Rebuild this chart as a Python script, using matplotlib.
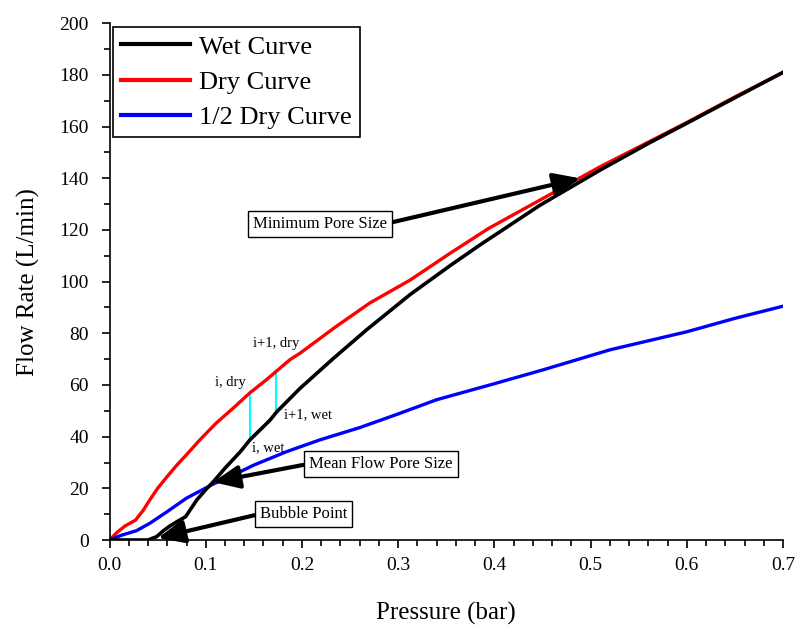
import matplotlib
matplotlib.use("Agg")
import matplotlib.pyplot as plt
from matplotlib.ticker import MultipleLocator

plt.rcParams['font.family'] = ['Liberation Serif', 'DejaVu Serif']

# dry curve
dry_p = [0, 0.008, 0.016, 0.027, 0.035, 0.042, 0.05, 0.06, 0.07, 0.08, 0.094,
         0.111, 0.129, 0.146, 0.163, 0.1875, 0.198, 0.235, 0.2708, 0.3124,
         0.354, 0.394, 0.4475, 0.51, 0.56, 0.6, 0.65, 0.7]
dry_f = [0, 3, 5.4, 7.7, 11.5, 15.6, 20, 24.6, 29, 33, 38.8,
         45.3, 51.2, 57, 62, 69.8, 72.3, 82.5, 91.8, 100.6,
         111, 120.6, 131.6, 144.5, 154, 161.6, 171.5, 181]

# wet curve
wet_p = [0, 0.04, 0.049, 0.056, 0.063, 0.071, 0.079, 0.0907, 0.1, 0.108, 0.12,
         0.136, 0.146, 0.16, 0.1668, 0.174, 0.198, 0.2327, 0.267, 0.2985,
         0.3124, 0.354, 0.385, 0.4475, 0.51, 0.56, 0.6, 0.65, 0.7]
wet_f = [0, 0, 1.3, 3.6, 5.5, 7.3, 9, 15.5, 19.5, 22.6, 27.8,
         34.2, 38.8, 43.9, 46.4, 49.7, 58.7, 70.3, 81.3, 90.8,
         95, 106.2, 114.2, 129.6, 143.2, 153.5, 161.3, 171.2, 181]

# half dry curve
half_p = [0, 0.012, 0.028, 0.042, 0.06, 0.08, 0.108, 0.129, 0.15, 0.184,
          0.219, 0.26, 0.3, 0.34, 0.4, 0.45, 0.52, 0.6, 0.65, 0.7]
half_f = [0, 1.8, 3.6, 6.5, 11, 16.2, 21.7, 25.2, 29, 34.2,
          38.8, 43.5, 48.8, 54.3, 60.5, 65.8, 73.6, 80.6, 85.8, 90.5]

# step i / i+1 between the curves
step_p = [0.146, 0.173]
step_dry = [57, 64.8]
step_wet = [38.8, 49.7]

fig = plt.figure(figsize=(7.96, 6.31), dpi=100)
ax = fig.add_axes([0.1376, 0.1442, 0.8461, 0.8189])

ax.plot(wet_p, wet_f, color='black', lw=2.6, label='Wet Curve', zorder=3)
ax.plot(dry_p, dry_f, color='#ff0000', lw=2.4, label='Dry Curve', zorder=2)
ax.plot(half_p, half_f, color='#0000ff', lw=2.4, label='1/2 Dry Curve', zorder=2)

ax.vlines(step_p, step_wet, step_dry, color='cyan', lw=1.5, zorder=1)

ax.text(0.1097, 60.8, 'i, dry', fontsize=10.5, va='center')
ax.text(0.149, 76.2, 'i+1, dry', fontsize=10.5, va='center')
ax.text(0.181, 48.4, 'i+1, wet', fontsize=10.5, va='center')
ax.text(0.148, 35.6, 'i, wet', fontsize=10.5, va='center')

box = dict(boxstyle='square,pad=0.3', fc='white', ec='black', lw=1)


def arrow(rel):
    return dict(arrowstyle='-|>,head_length=0.5,head_width=0.22', color='black',
                lw=3, mutation_scale=32, shrinkA=0, shrinkB=0, relpos=rel)


ax.annotate('Minimum Pore Size', xy=(0.489, 140), xytext=(0.149, 122.5),
            fontsize=12, bbox=box, arrowprops=arrow((1, 0.5)), va='center')
ax.annotate('Mean Flow Pore Size', xy=(0.1076, 22.4), xytext=(0.2074, 29.5),
            fontsize=12, bbox=box, arrowprops=arrow((0, 0.5)), va='center')
ax.annotate('Bubble Point', xy=(0.0504, 0.8), xytext=(0.1564, 10.1),
            fontsize=12, bbox=box, arrowprops=arrow((0, 0.5)), va='center')

ax.set_xlim(0, 0.7)
ax.set_ylim(0, 200)
ax.xaxis.set_major_locator(MultipleLocator(0.1))
ax.xaxis.set_minor_locator(MultipleLocator(0.02))
ax.yaxis.set_major_locator(MultipleLocator(20))
ax.yaxis.set_minor_locator(MultipleLocator(10))
ax.set_xticklabels([f'{v:.1f}' for v in ax.get_xticks()])
ax.tick_params(which='major', direction='out', length=6, width=1.2, labelsize=14)
ax.tick_params(axis='y', which='major', pad=9)
ax.tick_params(axis='x', which='major', pad=6)
ax.tick_params(which='minor', direction='out', length=4, width=1.2)
ax.spines['top'].set_visible(False)
ax.spines['right'].set_visible(False)
ax.spines['left'].set_linewidth(1.2)
ax.spines['bottom'].set_linewidth(1.2)

ax.set_xlabel('Pressure (bar)', fontsize=18, labelpad=20)
ax.set_ylabel('Flow Rate (L/min)', fontsize=18, labelpad=14)

leg = ax.legend(loc='upper left', fontsize=19, fancybox=False, edgecolor='black',
                handlelength=2.6, handletextpad=0.35, borderaxespad=0.15,
                framealpha=1, labelspacing=0.45, borderpad=0.3)
leg.get_frame().set_linewidth(1.2)
for line in leg.get_lines():
    line.set_linewidth(3)

fig.savefig('out.png', dpi=100)
